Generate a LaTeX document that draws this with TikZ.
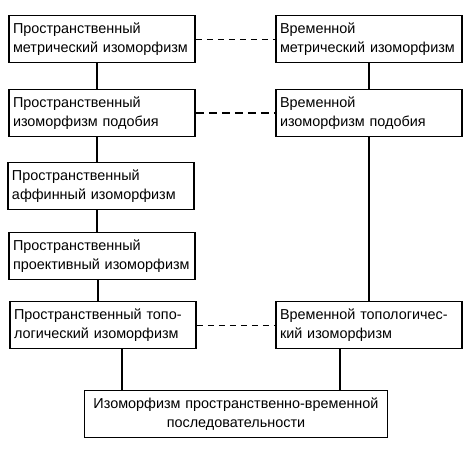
\documentclass[tikz,border=0pt]{standalone}
\usepackage{fontspec}
\setmainfont{Liberation Sans}
\usetikzlibrary{arrows}

\begin{document}
\begin{tikzpicture}[x=1pt,y=-1pt,
  caja/.style={draw,line width=1.8pt,align=left,text width=178pt,inner xsep=4pt,inner ysep=0pt,minimum height=47pt,font=\fontsize{14.4}{18.5}\selectfont},
  enlace/.style={line width=1.6pt},
  rayas/.style={dashed,dash pattern=on 6pt off 5pt,line width=0.8pt},
  rayasgruesas/.style={dash pattern=on 8pt off 5pt,line width=2pt}]
%marco de la figura
\useasboundingbox (0,0) rectangle (475,450);

%Columna del espacio
\node[caja] (esp1) at (102,39) {Пространственный\\метрический изоморфизм};
\node[caja] (esp2) at (102,113) {Пространственный\\изоморфизм подобия};
\node[caja] (esp3) at (101,186) {Пространственный\\аффинный изоморфизм};
\node[caja] (esp4) at (102,256) {Пространственный\\проективный изоморфизм};
\node[caja] (esp5) at (103,325) {Пространственный топо-\\логический изоморфизм};

%Columna del tiempo
\node[caja] (tie1) at (369,39) {Временной\\метрический изоморфизм};
\node[caja] (tie2) at (369,113) {Временной\\изоморфизм подобия};
\node[caja] (tie5) at (369,325) {Временной топологичес-\\кий изоморфизм};

%Caja de abajo
\node[caja,align=center,text width=295pt] (secu) at (236,414) {Изоморфизм пространственно-временной\\последовательности};

%Lineas verticales
\draw[enlace] ([xshift=-5pt]esp1.south) -- ([xshift=-5pt]esp2.north);
\draw[enlace] ([xshift=-5pt]esp2.south) -- ([xshift=-4pt]esp3.north);
\draw[enlace] ([xshift=-4pt]esp3.south) -- ([xshift=-5pt]esp4.north);
\draw[enlace] ([xshift=-4pt]esp4.south) -- ([xshift=-5pt]esp5.north);
\draw[enlace] (tie1.south) -- (tie2.north);
\draw[enlace] (tie2.south) -- (tie5.north);
\draw[enlace] ([xshift=19pt]esp5.south) -- ([xshift=19pt]esp5.south |- secu.north);
\draw[enlace] ([xshift=-29pt]tie5.south) -- ([xshift=-29pt]tie5.south |- secu.north);

%Lineas de rayas entre columnas
\draw[rayas] (esp1.east) -- (tie1.west);
\draw[rayasgruesas] (esp2.east) -- (tie2.west);
\draw[rayas] (esp5.east) -- (tie5.west);
\end{tikzpicture}
\end{document}
